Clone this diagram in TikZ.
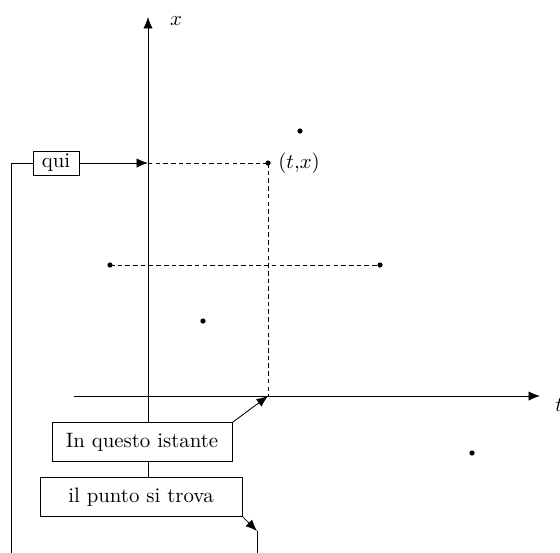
\documentclass[tikz,border=0pt]{standalone}
\usetikzlibrary{arrows.meta,positioning}

\begin{document}
\begin{tikzpicture}[
  x=0.48pt, y=-0.48pt,
  box/.style={draw, fill=white, inner sep=0pt, align=center},
  arrow/.style={-{Latex[length=5.5pt,width=4.5pt]}},
  dot/.style={circle, fill, inner sep=0pt, minimum size=2.5pt},
  guide/.style={dash pattern=on 2.2pt off 1.5pt}
]
\useasboundingbox (0,0) rectangle (560,552);

\coordinate (xbot) at (148,505);
\coordinate (xtop) at (148,17);
\coordinate (tleft) at (74,396);
\coordinate (tright) at (540,396);
\draw[arrow] (xbot) -- (xtop);
\draw[arrow] (tleft) -- (tright);
\node (xlab) at (176,21) {$x$};
\node (tlab) at (559,405) {$t$};

\node[dot] (P) at (268,163) {};
\node[right=0pt of P] (Plab) {$(t{,}x)$};
\node[dot] (p1) at (300,131) {};
\node[dot] (p2) at (110,265) {};
\node[dot] (p3) at (380,265) {};
\node[dot] (p4) at (203,321) {};
\node[dot] (p5) at (472,453) {};

\coordinate (Px) at (148,163);
\coordinate (Pt) at (268,396);
\draw[guide] (P.center) -- (Px);
\draw[guide] (P.center) -- (Pt);
\draw[guide] (p2.center) -- (p3.center);

\node[box, minimum width=22pt, minimum height=11.5pt] (qui) at (56,163) {qui};
\coordinate (leftend) at (11,560);
\draw[arrow] (qui) -- (Px);
\draw (qui.west) -| (leftend);

\node[box, minimum width=86.4pt, minimum height=18.4pt] (when) at (142,442) {In questo istante};
\node[box, minimum width=97pt, minimum height=18.4pt] (where) at (141,497) {il punto si trova};
\coordinate (bend) at (257,531);
\coordinate (downend) at (257,560);
\draw[arrow] (when.north east) -- (Pt);
\draw[arrow] (where.south east) -- (bend);
\draw (bend) -- (downend);

\end{tikzpicture}
\end{document}
